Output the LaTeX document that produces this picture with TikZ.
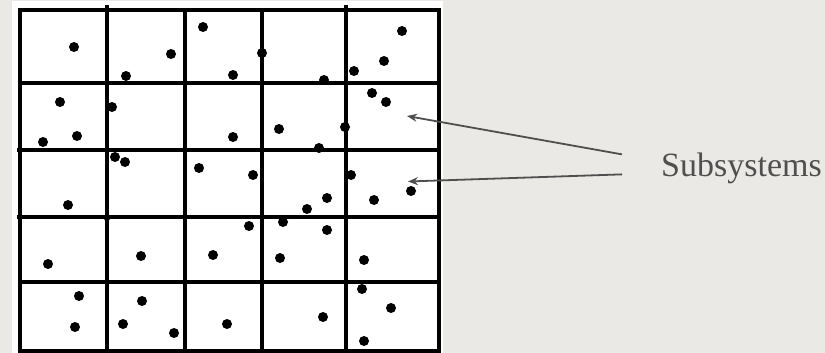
\documentclass[tikz,border=0pt]{standalone}
\usepackage{fontspec}
\setmainfont{Liberation Serif}
\usepackage{tikz}
\usetikzlibrary{arrows.meta, positioning, calc}
\definecolor{paper}{HTML}{EBE9E5}
\definecolor{pointer}{HTML}{4F4F4F}

\begin{document}
\begin{tikzpicture}[
    x=1pt, y=-1pt, >={Stealth[length=10pt,width=8pt]},
    cellline/.style={line width=3.6pt, black},
    particle/.style={fill=black},
    label/.style ={text=pointer, font=\fontsize{34}{36}\selectfont, inner sep=0pt},
    pointer/.style={->, line width=1.8pt, draw=pointer},
]
\useasboundingbox[fill=paper] (0,0) rectangle (825,353);
\fill[white] (12,1.5) rectangle (443,353);
% grid of subsystems
\draw[cellline] (20,10) rectangle (439,351);
\foreach \xv/\ya in {107/5, 185/10, 262/10, 346/5}
  \draw[cellline] (\xv,\ya) -- (\xv,349);
\foreach \yv/\xa in {83/20, 150/17, 217/17, 282/20}
  \draw[cellline] (\xa,\yv) -- (439,\yv);
% particles
\foreach \px/\py in {74/47, 171/54, 126/76, 203/27, 60/102, 112/107, 77/136, 43/142,
    115/157, 125/162, 199/168, 233/75, 262/53, 402/31, 384/61, 354/71, 324/80,
    372/93, 386/102, 233/137, 279/129, 345/127, 319/148, 253/175, 351/175,
    68/205, 48/264, 141/256, 213/255, 79/296, 142/301, 75/327, 123/324, 174/333,
    227/324, 411/191, 374/200, 327/198, 307/209, 249/226, 283/222, 327/230,
    280/258, 364/260, 362/289, 391/308, 323/317, 364/341}
  \fill[particle] (\px,\py) circle (5pt);
\fill[particle] (107,218) circle (3.2pt);
% label and pointers
\node[label, anchor=base west] (sub) at (661,176.5) {Subsystems};
\coordinate (tipa) at (407,116);
\coordinate (tipb) at (408,181.5);
\draw[pointer] ($(sub.west)+(-39,-14)$) -- (tipa);
\draw[pointer] ($(sub.west)+(-39,6)$) -- (tipb);
\end{tikzpicture}
\end{document}
